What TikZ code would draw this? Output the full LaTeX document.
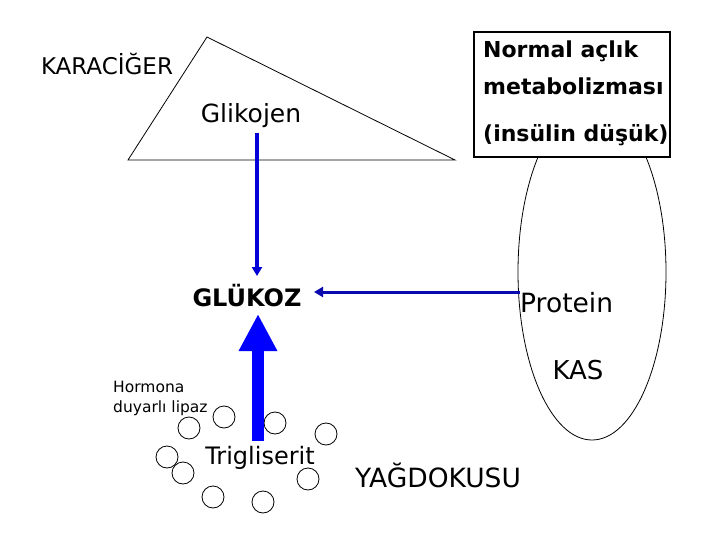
\documentclass[tikz,border=0pt]{standalone}
\usepackage{fontspec}
\setmainfont{DejaVu Sans}
\usetikzlibrary{arrows.meta,shapes.geometric}
\definecolor{bigblue}{RGB}{0,0,255}
\definecolor{thinblue}{RGB}{0,0,215}
\definecolor{hblue}{RGB}{10,10,175}
\tikzset{
  lbl/.style={inner sep=0pt, anchor=base},
  boxtxt/.style={inner sep=0pt, anchor=base west, font=\bfseries\fontsize{22}{26}\selectfont},
  fat/.style={circle, draw, line width=0.8pt, minimum size=22pt, inner sep=0pt},
  thinarrow/.style={draw=thinblue, line width=3.5pt, -{Triangle[width=10pt,length=9pt]}},
  harrow/.style={draw=hblue, line width=3pt, -{Triangle[width=10pt,length=9pt]}},
  bigarrow/.style={draw=bigblue, line width=11.5pt, -{Triangle[width=36pt,length=37pt]}},
}
\begin{document}
\begin{tikzpicture}[x=1pt,y=-1pt]
\useasboundingbox[fill=white] (0,0) rectangle (720,540);
% liver triangle
\draw[line width=0.8pt] (207,37) -- (455,160) -- (128,160) -- cycle;
\node[lbl, font=\fontsize{23}{26}\selectfont] (kar) at (107,75) {KARACİĞER};
\node[lbl, font=\fontsize{25}{28}\selectfont] (glik) at (251,123) {Glikojen};
% muscle
\draw[line width=0.8pt] (592,272) ellipse [x radius=74, y radius=168];
% box
\node[draw, fill=white, line width=1.2pt, minimum width=196pt, minimum height=125pt, inner sep=0pt] (box) at (572,94.5) {};
\node[boxtxt] (t1) at (483,58) {Normal açlık};
\node[boxtxt] (t2) at (483,95) {metabolizması};
\node[boxtxt] (t3) at (483,142) {(insülin düşük)};
% glucose
\node[lbl, font=\bfseries\fontsize{24}{28}\selectfont] (gluk) at (247,306) {GLÜKOZ};
\node[lbl, anchor=base west, font=\fontsize{26.5}{28}\selectfont] (prot) at (520,312) {Protein};
\node[lbl, font=\fontsize{26}{28}\selectfont] (kas) at (578,379) {KAS};
% adipose
\node[lbl, font=\fontsize{26.5}{28}\selectfont] (yag) at (438,487) {YAĞDOKUSU};
\node[lbl, font=\fontsize{24}{28}\selectfont] (trig) at (260,464) {Trigliserit};
\node[lbl, anchor=base west, font=\fontsize{15.5}{16}\selectfont] (horm1) at (113,392) {Hormona};
\node[lbl, anchor=base west, font=\fontsize{15.5}{16}\selectfont] (horm2) at (113,412) {duyarlı lipaz};
\node[fat] (c1) at (224,417) {};
\node[fat] (c2) at (189,428) {};
\node[fat] (c3) at (275,423) {};
\node[fat] (c4) at (326,434) {};
\node[fat] (c5) at (167,457) {};
\node[fat] (c6) at (183,473) {};
\node[fat] (c7) at (308,479) {};
\node[fat] (c8) at (213,497) {};
\node[fat] (c9) at (263,502) {};
% arrow ends
\coordinate (glikout) at (257,133);
\coordinate (glukin) at (257,276);
\coordinate (protout) at (520,292);
\coordinate (glukright) at (314,292);
\coordinate (trigout) at (258,441);
\coordinate (glukbot) at (258,314);
\draw[thinarrow] (glikout) -- (glukin);
\draw[harrow] (protout) -- (glukright);
\draw[bigarrow] (trigout) -- (glukbot);
\end{tikzpicture}
\end{document}
